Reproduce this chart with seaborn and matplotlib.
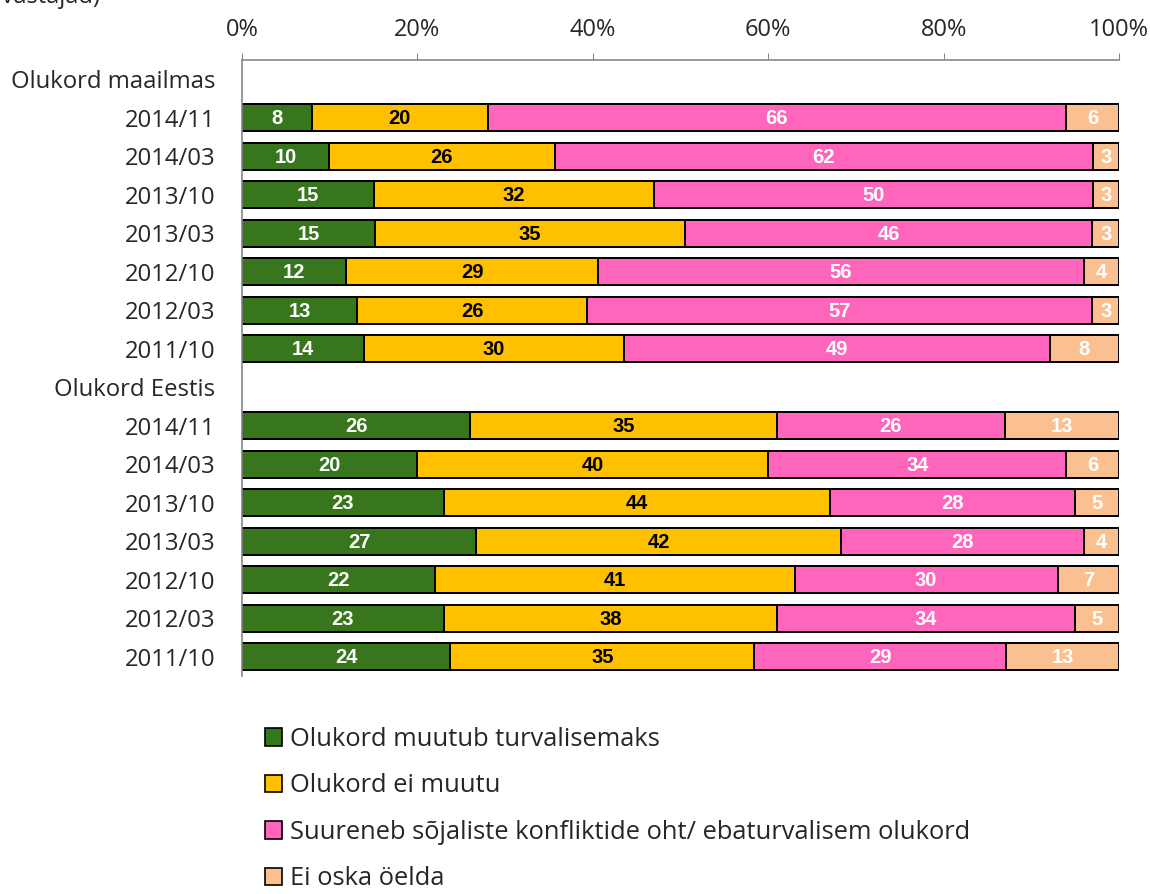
import pandas as pd
import matplotlib
matplotlib.use("Agg")
import matplotlib.pyplot as plt
from matplotlib.patches import Patch
import seaborn as sns

# andmed (loetud jooniselt)
kuupaevad = ["2014/11", "2014/03", "2013/10", "2013/03", "2012/10", "2012/03", "2011/10"]
rühmad = ["Olukord maailmas", "Olukord Eestis"]

maailm_turvalisem = [8, 10, 15, 15, 12, 13, 14]
maailm_ei_muutu = [20, 26, 32, 35, 29, 26, 30]
maailm_ohtlikum = [66, 62, 50, 46, 56, 57, 49]
maailm_ei_oska = [6, 3, 3, 3, 4, 3, 8]

eesti_turvalisem = [26, 20, 23, 27, 22, 23, 24]
eesti_ei_muutu = [35, 40, 44, 42, 41, 38, 35]
eesti_ohtlikum = [26, 34, 28, 28, 30, 34, 29]
eesti_ei_oska = [13, 6, 5, 4, 7, 5, 13]

vastused = ["Olukord muutub turvalisemaks", "Olukord ei muutu",
            "Suureneb sõjaliste konfliktide oht/ ebaturvalisem olukord", "Ei oska öelda"]
värvid = ["#38761D", "#FFC000", "#FF66BB", "#FAC090"]
teksti_värvid = ["white", "black", "white", "white"]

# tabel kokku
read = []
järjekord = []
silt = []
for g, seeriad in zip(rühmad, [
        [maailm_turvalisem, maailm_ei_muutu, maailm_ohtlikum, maailm_ei_oska],
        [eesti_turvalisem, eesti_ei_muutu, eesti_ohtlikum, eesti_ei_oska]]):
    järjekord.append(g)
    silt.append(g)
    for i, k in enumerate(kuupaevad):
        voti = g + " " + k
        järjekord.append(voti)
        silt.append(k)
        read.append([voti] + [s[i] for s in seeriad])

df = pd.DataFrame(read, columns=["rida"] + vastused)
summa = df[vastused].sum(axis=1)
# 100% virnastatud - normeerime rea summaga
kum = df[vastused].div(summa, axis=0).cumsum(axis=1) * 100

sns.set_style("white")
plt.rcParams["font.family"] = ["Open Sans", "DejaVu Sans"]

fig = plt.figure(figsize=(11.5, 8.94), dpi=100)
ax = fig.add_axes([242 / 1150, 1 - 676 / 894, 877 / 1150, 616 / 894])

# joonistame paremalt vasakule, et tulbad kattuksid
for j in range(len(vastused) - 1, -1, -1):
    sns.barplot(x=kum[vastused[j]], y=df["rida"], order=järjekord, orient="h",
                color=värvid[j], saturation=1, edgecolor="black", linewidth=1.4,
                width=0.7, ax=ax)

# sildid tulpade sees
for idx, r in df.iterrows():
    y = järjekord.index(r["rida"])
    vasak = 0
    for j, v in enumerate(vastused):
        parem = kum.loc[idx, v]
        ax.text((vasak + parem) / 2, y + 0.03, str(r[v]), ha="center", va="center",
                fontsize=14.5, fontweight="bold", color=teksti_värvid[j],
                family="Liberation Sans")
        vasak = parem

ax.set_xlim(0, 100)
ax.set_ylim(len(järjekord) - 0.5, -0.5)
ax.xaxis.tick_top()
ax.set_xticks([0, 20, 40, 60, 80, 100])
ax.set_xticklabels(["0%", "20%", "40%", "60%", "80%", "100%"], fontsize=17)
ax.set_yticks(range(len(järjekord)))
ax.set_yticklabels(silt, fontsize=17.2)
ax.tick_params(axis="x", length=5, color="#888888", pad=8, top=True, bottom=False)
ax.tick_params(axis="y", length=0, pad=19)
ax.set_xlabel("")
ax.set_ylabel("")
for s in ["right", "bottom"]:
    ax.spines[s].set_visible(False)
for s in ["top", "left"]:
    ax.spines[s].set_color("#888888")
    ax.spines[s].set_linewidth(1.2)

# pealkirja alumine osa on pildilt välja lõigatud
fig.text(100 / 1150, 1 - 3 / 894, "(% kõik vastajad)", ha="right", va="baseline", fontsize=17)

käepidemed = [Patch(facecolor=c, edgecolor="black", linewidth=1.2) for c in värvid]
fig.legend(käepidemed, vastused, loc="upper left", bbox_to_anchor=(265 / 1150, 1 - 727 / 894),
           frameon=False, fontsize=18.4, handlelength=0.68, handleheight=0.68,
           handletextpad=0.3, labelspacing=0.84, borderpad=0, borderaxespad=0)

fig.savefig("out.png", dpi=100)
